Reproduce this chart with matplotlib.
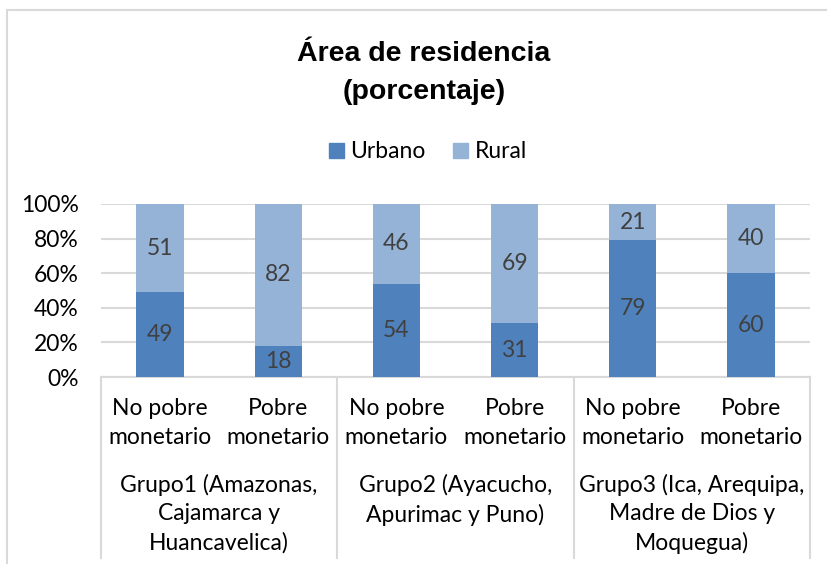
import numpy as np
import matplotlib.pyplot as plt
from matplotlib.patches import Rectangle
from matplotlib.patches import Patch
import matplotlib.transforms as mtransforms

categorias = ['No pobre\nmonetario', 'Pobre\nmonetario'] * 3
grupos = ['Grupo1 (Amazonas,\nCajamarca y\nHuancavelica)',
          'Grupo2 (Ayacucho,\nApurimac y Puno)',
          'Grupo3 (Ica, Arequipa,\nMadre de Dios y\nMoquegua)']
urbano = [49, 18, 54, 31, 79, 60]
rural = [51, 82, 46, 69, 21, 40]
yticks = [0, 20, 40, 60, 80, 100]

c_urb = '#4F81BD'
c_rur = '#95B3D7'
gris = '#D9D9D9'
plt.rcParams['font.family'] = ['Lato', 'DejaVu Sans']

W, H = 827, 564
fig = plt.figure(figsize=(W / 100, H / 100), dpi=100)
ax = fig.add_axes([101 / W, 1 - 377 / H, 709 / W, 173 / H])

x = np.arange(len(urbano))
ax.bar(x, urbano, width=0.4, color=c_urb, zorder=3)
ax.bar(x, rural, width=0.4, bottom=urbano, color=c_rur, zorder=3)

for i in range(len(x)):
    ax.text(x[i], urbano[i] / 2, str(urbano[i]), ha='center', va='center',
            fontsize=16.5, color='#404040', zorder=4)
    ax.text(x[i], urbano[i] + rural[i] / 2, str(rural[i]), ha='center', va='center',
            fontsize=16.5, color='#404040', zorder=4)

ax.set_xlim(-0.5, len(x) - 0.5)
ax.set_ylim(0, 100)
ax.set_yticks(yticks)
ax.set_yticklabels(['%d%%' % v for v in yticks], fontsize=16.5)
ax.set_xticks([])
ax.tick_params(axis='y', length=0, pad=16)
for s in ['left', 'right', 'top']:
    ax.spines[s].set_visible(False)
ax.spines['bottom'].set_color(gris)
ax.spines['bottom'].set_linewidth(1.5)
ax.grid(axis='y', color=gris, linewidth=1.5, zorder=0)

trans = mtransforms.blended_transform_factory(ax.transData, ax.transAxes)
y_low = (377 - 558) / 173
for xs in [-0.5, 1.5, 3.5, 5.5]:
    ax.plot([xs, xs], [0, y_low], color=gris, linewidth=1.5, transform=trans, clip_on=False)

for i in range(len(x)):
    ax.text(x[i], (377 - 398) / 173, categorias[i], ha='center', va='top',
            fontsize=16.5, linespacing=1.45, transform=trans)
for g in range(len(grupos)):
    ax.text(2 * g + 0.5, (377 - 474) / 173, grupos[g], ha='center', va='top',
            fontsize=16.5, linespacing=1.42, transform=trans)

fig.text(424 / W, 1 - 73 / H, 'Área de residencia\n(porcentaje)', ha='center', va='center',
         fontsize=20.5, fontweight='bold', family='Liberation Sans', linespacing=1.6)

handles = [Patch(color=c_urb), Patch(color=c_rur)]
fig.legend(handles, ['Urbano', 'Rural'], loc='center', bbox_to_anchor=(428 / W, 1 - 152 / H),
           ncol=2, frameon=False, fontsize=16.5, handlelength=0.65, handleheight=0.65,
           handletextpad=0.3, columnspacing=1.2)

fig.patches.append(Rectangle((7 / W, -0.05), 1.0, 1 - 10 / H + 0.05, transform=fig.transFigure,
                             fill=False, edgecolor=gris, linewidth=1.5))

fig.savefig('out.png', dpi=100)
